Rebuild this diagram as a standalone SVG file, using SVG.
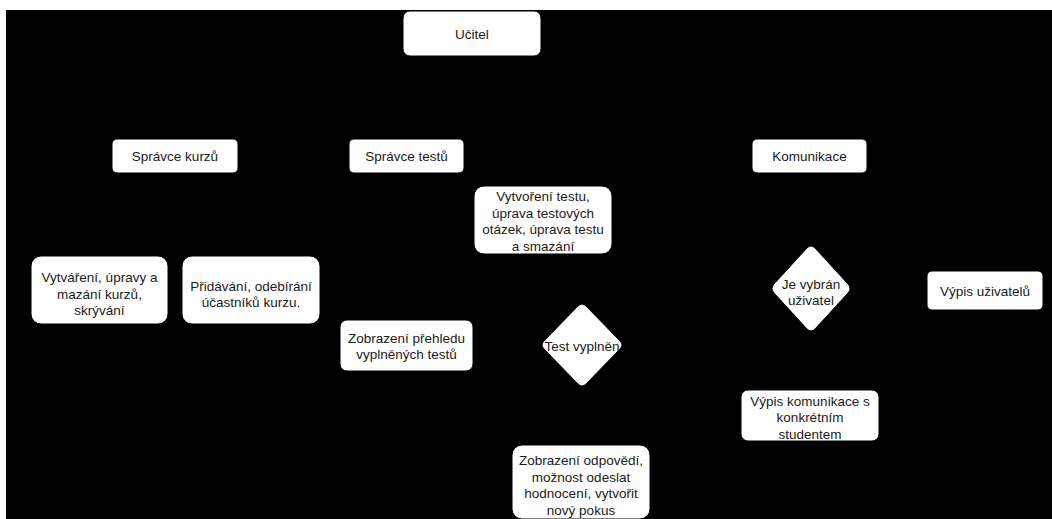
<svg xmlns="http://www.w3.org/2000/svg" width="1052" height="519" viewBox="0 0 1052 519">
<style>
.box{fill:#ffffff;stroke:#000000;stroke-width:1}
.t{font-family:"Liberation Sans",Arial,Helvetica,sans-serif;font-size:13.5px;fill:#1a1a1a;text-anchor:middle;dominant-baseline:central}
</style>
<rect x="0" y="0" width="1052" height="519" fill="#ffffff"/>
<rect x="6" y="10" width="1046" height="509" fill="#000000"/>
<g id="connectors"></g>
<g id="ucitel"><rect class="box" x="403" y="11" width="138" height="45" rx="7"/><text class="t" x="472" y="34">Učitel</text></g>
<g id="spravce-kurzu"><rect class="box" x="112" y="139" width="126" height="34" rx="5"/><text class="t" x="175" y="156">Správce kurzů</text></g>
<g id="spravce-testu"><rect class="box" x="349" y="139" width="115" height="34" rx="5"/><text class="t" x="406.5" y="156">Správce testů</text></g>
<g id="komunikace"><rect class="box" x="752" y="139" width="115" height="34" rx="5"/><text class="t" x="809.5" y="156">Komunikace</text></g>
<g id="vytvoreni-testu"><rect class="box" x="474" y="186" width="138" height="68" rx="10"/><text class="t" x="543"><tspan x="543" y="196">Vytvoření testu,</tspan><tspan x="543" y="212.5">úprava testových</tspan><tspan x="543" y="229">otázek, úprava testu</tspan><tspan x="543" y="245.5">a smazání</tspan></text></g>
<g id="vytvareni-kurzu"><rect class="box" x="31" y="256" width="137" height="68" rx="10"/><text class="t"><tspan x="99.5" y="277">Vytváření, úpravy a</tspan><tspan x="99.5" y="293.5">mazání kurzů,</tspan><tspan x="99.5" y="310">skrývání</tspan></text></g>
<g id="pridavani-ucastniku"><rect class="box" x="182" y="256" width="138" height="68" rx="10"/><text class="t"><tspan x="251" y="285.5">Přidávání, odebírání</tspan><tspan x="251" y="302">účastníků kurzu.</tspan></text></g>
<g id="zobrazeni-prehledu"><rect class="box" x="340" y="320" width="133" height="51" rx="7"/><text class="t"><tspan x="406.5" y="337.5">Zobrazení přehledu</tspan><tspan x="406.5" y="354">vyplněných testů</tspan></text></g>
<g id="test-vyplnen"><path class="box" d="M578 306 Q582 302 586 306 L620 341 Q624 345 620 349 L586 384 Q582 388 578 384 L544 349 Q540 345 544 341 Z"/><text class="t" x="582" y="346.5">Test vyplněn</text></g>
<g id="je-vybran"><path class="box" d="M807 248 Q811 244 815 248 L848 284 Q852 288.5 848 293 L815 329 Q811 333 807 329 L774 293 Q770 288.5 774 284 Z"/><text class="t"><tspan x="811" y="284">Je vybrán</tspan><tspan x="811" y="300">uživatel</tspan></text></g>
<g id="vypis-uzivatelu"><rect class="box" x="927" y="271" width="116" height="39" rx="5"/><text class="t" x="985" y="291">Výpis uživatelů</text></g>
<g id="vypis-komunikace"><rect class="box" x="741" y="390" width="138" height="51" rx="7"/><text class="t"><tspan x="810" y="400.5">Výpis komunikace s</tspan><tspan x="810" y="417">konkrétním</tspan><tspan x="810" y="433.5">studentem</tspan></text></g>
<g id="zobrazeni-odpovedi"><rect class="box" x="512" y="445" width="138" height="74" rx="10"/><text class="t"><tspan x="581" y="460">Zobrazení odpovědí,</tspan><tspan x="581" y="476.5">možnost odeslat</tspan><tspan x="581" y="493">hodnocení, vytvořit</tspan><tspan x="581" y="509.5">nový pokus</tspan></text></g>
</svg>
